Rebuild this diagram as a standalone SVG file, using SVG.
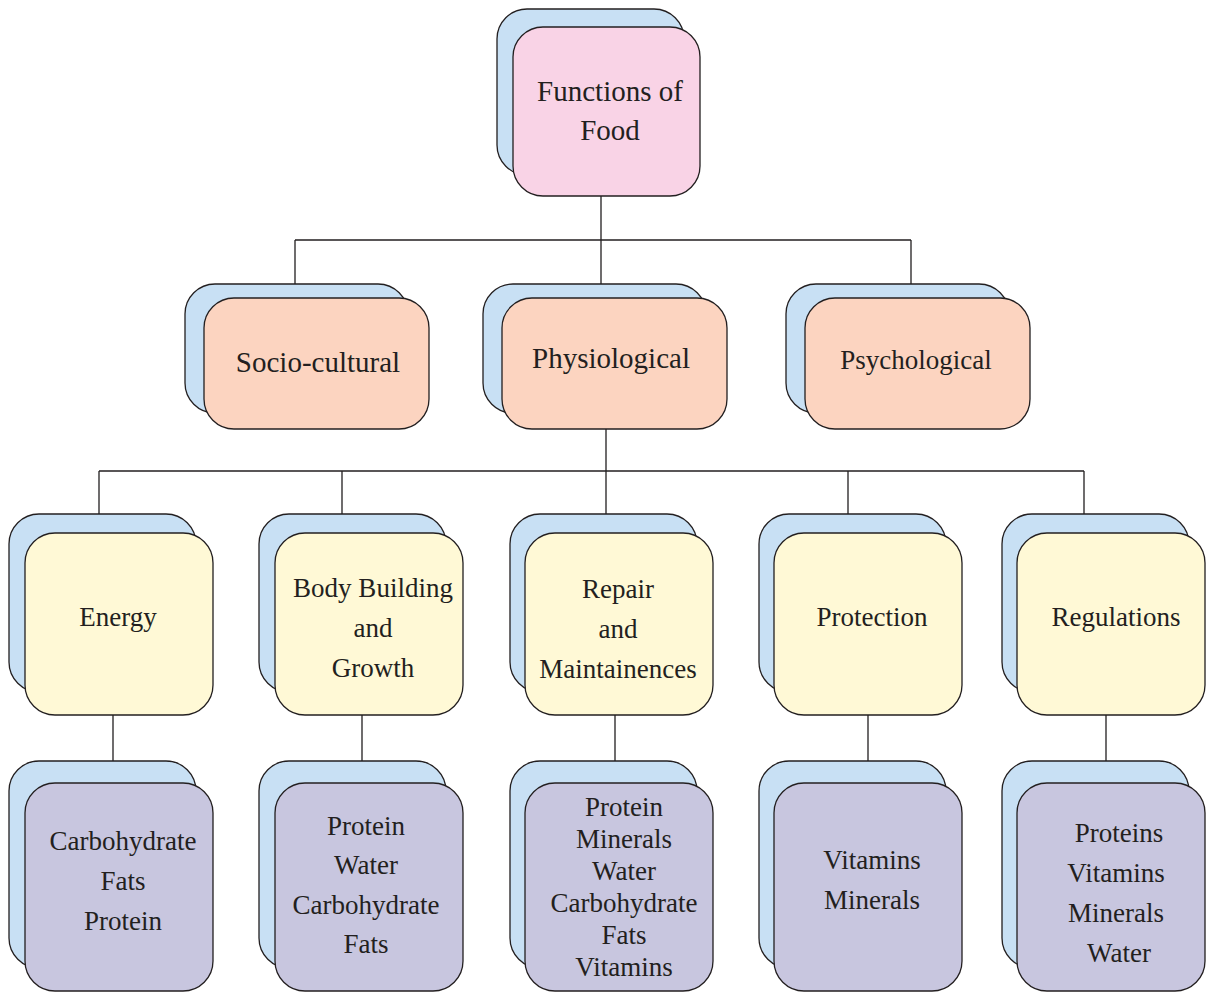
<svg xmlns="http://www.w3.org/2000/svg" width="1206" height="992" viewBox="0 0 1206 992">
<style>
.bk{fill:#c8e0f4;stroke:#231f20;stroke-width:1.3}
.pk{fill:#f9d3e6;stroke:#231f20;stroke-width:1.3}
.pe{fill:#fcd4c0;stroke:#231f20;stroke-width:1.3}
.ye{fill:#fff9d6;stroke:#231f20;stroke-width:1.3}
.pu{fill:#c8c6df;stroke:#231f20;stroke-width:1.3}
text{font-family:"Liberation Serif","Times New Roman",serif;fill:#231f20;text-anchor:middle;font-size:27px}
.big{font-size:29px}
#connectors path{fill:none;stroke:#231f20;stroke-width:1.3}
</style>
<rect width="1206" height="992" fill="#ffffff"/>
<g id="connectors">
<path d="M601 196V240M295 240H911M295 240V284M601 240V284M911 240V284"/>
<path d="M606 429V471M99 471H1084M99 471V514M342 471V514M606 471V514M848 471V514M1084 471V514"/>
<path d="M113 715V761M362 715V761M615 715V761M868 715V761M1106 715V761"/>
</g>
<g id="functions">
<rect class="bk" x="497" y="9" width="187" height="166" rx="30"/>
<rect class="pk" x="513" y="27" width="187" height="169" rx="30"/>
<text class="big" x="610" y="101">Functions of</text>
<text class="big" x="610" y="140">Food</text>
</g>
<g id="socio">
<rect class="bk" x="185" y="284" width="223" height="129" rx="30"/>
<rect class="pe" x="204" y="298" width="225" height="131" rx="30"/>
<text class="big" x="318" y="372">Socio-cultural</text>
</g>
<g id="physio">
<rect class="bk" x="483" y="284" width="223" height="129" rx="30"/>
<rect class="pe" x="502" y="298" width="225" height="131" rx="30"/>
<text class="big" x="611" y="368">Physiological</text>
</g>
<g id="psycho">
<rect class="bk" x="786" y="284" width="223" height="129" rx="30"/>
<rect class="pe" x="805" y="298" width="225" height="131" rx="30"/>
<text x="916" y="369">Psychological</text>
</g>
<g id="energy">
<rect class="bk" x="9" y="514" width="187" height="178" rx="30"/>
<rect class="ye" x="25" y="533" width="188" height="182" rx="30"/>
<text x="118" y="626">Energy</text>
</g>
<g id="body">
<rect class="bk" x="259" y="514" width="187" height="178" rx="30"/>
<rect class="ye" x="275" y="533" width="188" height="182" rx="30"/>
<text x="373" y="597">Body Building</text>
<text x="373" y="637">and</text>
<text x="373" y="677">Growth</text>
</g>
<g id="repair">
<rect class="bk" x="510" y="514" width="187" height="178" rx="30"/>
<rect class="ye" x="525" y="533" width="188" height="182" rx="30"/>
<text x="618" y="598">Repair</text>
<text x="618" y="638">and</text>
<text x="618" y="678">Maintainences</text>
</g>
<g id="protection">
<rect class="bk" x="759" y="514" width="187" height="178" rx="30"/>
<rect class="ye" x="774" y="533" width="188" height="182" rx="30"/>
<text x="872" y="626">Protection</text>
</g>
<g id="regulations">
<rect class="bk" x="1002" y="514" width="187" height="178" rx="30"/>
<rect class="ye" x="1017" y="533" width="188" height="182" rx="30"/>
<text x="1116" y="626">Regulations</text>
</g>
<g id="energy-foods">
<rect class="bk" x="9" y="761" width="187" height="207" rx="30"/>
<rect class="pu" x="25" y="783" width="188" height="208" rx="30"/>
<text x="123" y="850">Carbohydrate</text>
<text x="123" y="890">Fats</text>
<text x="123" y="930">Protein</text>
</g>
<g id="body-foods">
<rect class="bk" x="259" y="761" width="187" height="207" rx="30"/>
<rect class="pu" x="275" y="783" width="188" height="208" rx="30"/>
<text x="366" y="835">Protein</text>
<text x="366" y="874">Water</text>
<text x="366" y="914">Carbohydrate</text>
<text x="366" y="953">Fats</text>
</g>
<g id="repair-foods">
<rect class="bk" x="510" y="761" width="187" height="207" rx="30"/>
<rect class="pu" x="525" y="783" width="188" height="208" rx="30"/>
<text x="624" y="816">Protein</text>
<text x="624" y="848">Minerals</text>
<text x="624" y="880">Water</text>
<text x="624" y="912">Carbohydrate</text>
<text x="624" y="944">Fats</text>
<text x="624" y="976">Vitamins</text>
</g>
<g id="protection-foods">
<rect class="bk" x="759" y="761" width="187" height="207" rx="30"/>
<rect class="pu" x="774" y="783" width="188" height="208" rx="30"/>
<text x="872" y="869">Vitamins</text>
<text x="872" y="909">Minerals</text>
</g>
<g id="regulation-foods">
<rect class="bk" x="1002" y="761" width="187" height="207" rx="30"/>
<rect class="pu" x="1017" y="783" width="188" height="208" rx="30"/>
<text x="1119" y="842">Proteins</text>
<text x="1116" y="882">Vitamins</text>
<text x="1116" y="922">Minerals</text>
<text x="1119" y="962">Water</text>
</g>
</svg>
